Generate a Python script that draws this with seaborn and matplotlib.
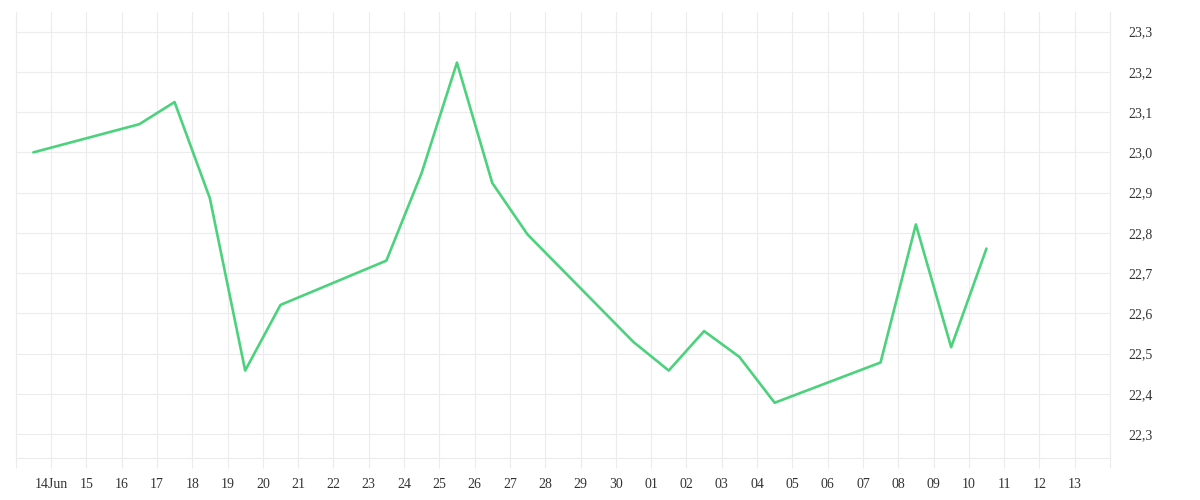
import matplotlib
matplotlib.use("Agg")
import matplotlib.pyplot as plt
import matplotlib.dates as mdates
import pandas as pd
import seaborn as sns

# --- data (one reading per day, around midday)
dates = [
    "2023-06-13 12:00", "2023-06-16 12:00", "2023-06-17 12:00", "2023-06-18 12:00",
    "2023-06-19 12:00", "2023-06-20 12:00", "2023-06-23 12:00", "2023-06-24 12:00",
    "2023-06-25 12:00", "2023-06-26 12:00", "2023-06-27 12:00", "2023-06-30 12:00",
    "2023-07-01 12:00", "2023-07-02 12:00", "2023-07-03 12:00", "2023-07-04 12:00",
    "2023-07-07 12:00", "2023-07-08 12:00", "2023-07-09 12:00", "2023-07-10 12:00",
]
values = [
    23.000, 23.070, 23.125, 22.886,
    22.458, 22.621, 22.731, 22.949,
    23.223, 22.924, 22.796, 22.529,
    22.458, 22.556, 22.492, 22.378,
    22.478, 22.821, 22.516, 22.761,
]
y_ticks = [22.3, 22.4, 22.5, 22.6, 22.7, 22.8, 22.9, 23.0, 23.1, 23.2, 23.3]

df = pd.DataFrame({"date": pd.to_datetime(dates), "value": values})

GRID = "#ececec"
TEXT = "#333333"

sns.set_theme(style="white")
plt.rcParams["font.family"] = ["Liberation Serif", "DejaVu Serif"]

fig = plt.figure(figsize=(12, 5), dpi=100)
ax = fig.add_axes([0.0131, 0.0834, 0.9119, 0.892])

sns.lineplot(data=df, x="date", y="value", ax=ax, color="#4cd27d", linewidth=1.9)

# x axis: one gridline per day, labels on 14 Jun .. 13 Jul
start = pd.Timestamp("2023-06-13")
end = pd.Timestamp("2023-07-14")
days = pd.date_range(start, end, freq="D")
labels = []
for d in days:
    if d == start or d == end:
        labels.append("")
    elif d == start + pd.Timedelta(days=1):
        labels.append(d.strftime("%d") + "Jun")
    else:
        labels.append(d.strftime("%d"))
ax.set_xlim(start, end)
ax.set_xticks(mdates.date2num(days.to_pydatetime()))
ax.set_xticklabels(labels)

# y axis on the right, comma decimals
ax.set_ylim(22.240, 23.348)
ax.set_yticks(y_ticks)
ax.set_yticklabels([f"{v:.1f}".replace(".", ",") for v in y_ticks])
ax.yaxis.tick_right()

ax.grid(True, color=GRID, linewidth=0.8)
ax.tick_params(axis="x", bottom=True, length=7.2, width=0.8, color=GRID,
               pad=7, labelsize=10, labelcolor=TEXT)
ax.tick_params(axis="y", right=True, left=False, length=0, pad=13,
               labelsize=10, labelcolor=TEXT)

ax.set_xlabel("")
ax.set_ylabel("")
for side in ["left", "right", "bottom"]:
    ax.spines[side].set_color(GRID)
    ax.spines[side].set_linewidth(0.8)
ax.spines["top"].set_visible(False)

fig.savefig("out.png", dpi=100, facecolor="white")
plt.close(fig)
